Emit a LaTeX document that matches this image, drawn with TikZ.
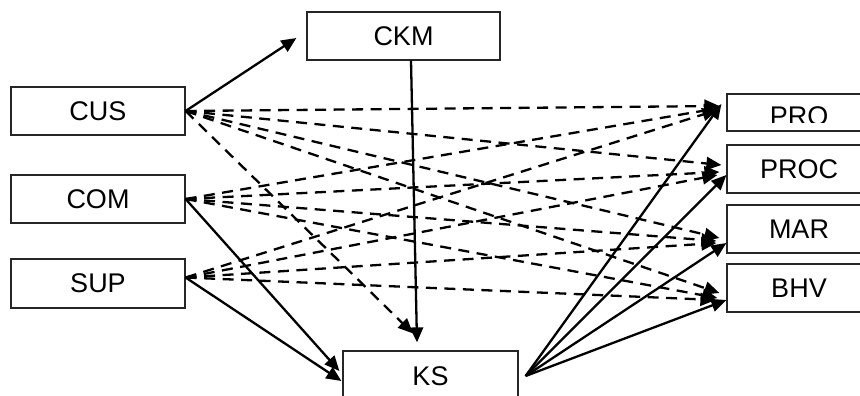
\documentclass[tikz,border=0pt]{standalone}
\usepackage{fontspec}
\setmainfont{Liberation Sans}
\usetikzlibrary{arrows.meta,calc}
\begin{document}
\begin{tikzpicture}[x=1pt,y=-1pt,
  box/.style={draw=black!85, line width=1.2pt, inner sep=0pt,
              font=\fontsize{27}{30}\selectfont},
  lefbox/.style={box, minimum width=174pt, minimum height=48pt},
  rigbox/.style={box, minimum width=144pt, minimum height=48pt},
  link/.style={line width=2.3pt, -{Triangle[length=15pt,width=13pt]}},
  weak/.style={link, dash pattern=on 11pt off 7.5pt}]
\clip (0,0) rectangle (860,396);

% sources on the left
\node[lefbox] (cus) at (98,111) {CUS};
\node[lefbox] (com) at (98,199) {COM};
\node[lefbox, minimum height=49pt] (sup) at (98,283.5) {SUP};

% mediators
\node[box, minimum width=193pt, minimum height=48pt] (ckm) at (403.5,36) {CKM};
\node[box, minimum width=175pt, minimum height=50pt] (ks) at (430.5,376) {KS};

% outcomes on the right
\node[rigbox, minimum height=37pt] (pro) at (799,112.5) {};
\begin{scope}
  \clip (727,94) rectangle (871,122);
  \node[font=\fontsize{27}{30}\selectfont, inner sep=0pt] (protext) at (799,116.5) {PRO};
\end{scope}
\node[rigbox] (proc) at (799,169) {PROC};
\node[rigbox] (mar) at (799,229) {MAR};
\node[rigbox] (bhv) at (799,288) {BHV};

% solid links
\draw[link] (cus.east) -- ($(ckm.west)+(-10,2)$);
\draw[link] ($(ckm.south)+(7.5,0)$) -- ($(ks.north)+(-13.5,-8)$);
\draw[link] (com.east) -- ($(ks.west)+(-3,-5)$);
\draw[link] ($(sup.east)+(0,-6)$) -- ($(ks.west)+(-1,5)$);
\draw[link] ($(ks.east)+(7,0)$) -- ($(pro.west)+(-5,-8.5)$);
\draw[link] ($(ks.east)+(7,0)$) -- ($(proc.west)+(0,6)$);
\draw[link] ($(ks.east)+(7,0)$) -- ($(mar.west)+(0,14)$);
\draw[link] ($(ks.east)+(7,0)$) -- ($(bhv.west)+(0,12)$);

% dashed links
\draw[weak] (cus.east) -- ($(ks.north)+(-17.5,-17)$);
\draw[weak] (cus.east) -- ($(pro.west)+(-7,-6.5)$);
\draw[weak] (cus.east) -- ($(proc.west)+(-5,-4)$);
\draw[weak] (cus.east) -- ($(mar.west)+(-7,9)$);
\draw[weak] (cus.east) -- ($(bhv.west)+(-7,5)$);

\draw[weak] (com.east) -- ($(pro.west)+(-7,-4.5)$);
\draw[weak] (com.east) -- ($(proc.west)+(-7,3)$);
\draw[weak] (com.east) -- ($(mar.west)+(-10,12)$);
\draw[weak] (com.east) -- ($(bhv.west)+(-9,10)$);

\draw[weak] ($(sup.east)+(0,-6)$) -- ($(pro.west)+(-9,-2.5)$);
\draw[weak] ($(sup.east)+(0,-6)$) -- ($(proc.west)+(-9,6)$);
\draw[weak] ($(sup.east)+(0,-6)$) -- ($(mar.west)+(-10,14)$);
\draw[weak] ($(sup.east)+(0,-6)$) -- ($(bhv.west)+(-11,12)$);
\end{tikzpicture}
\end{document}
